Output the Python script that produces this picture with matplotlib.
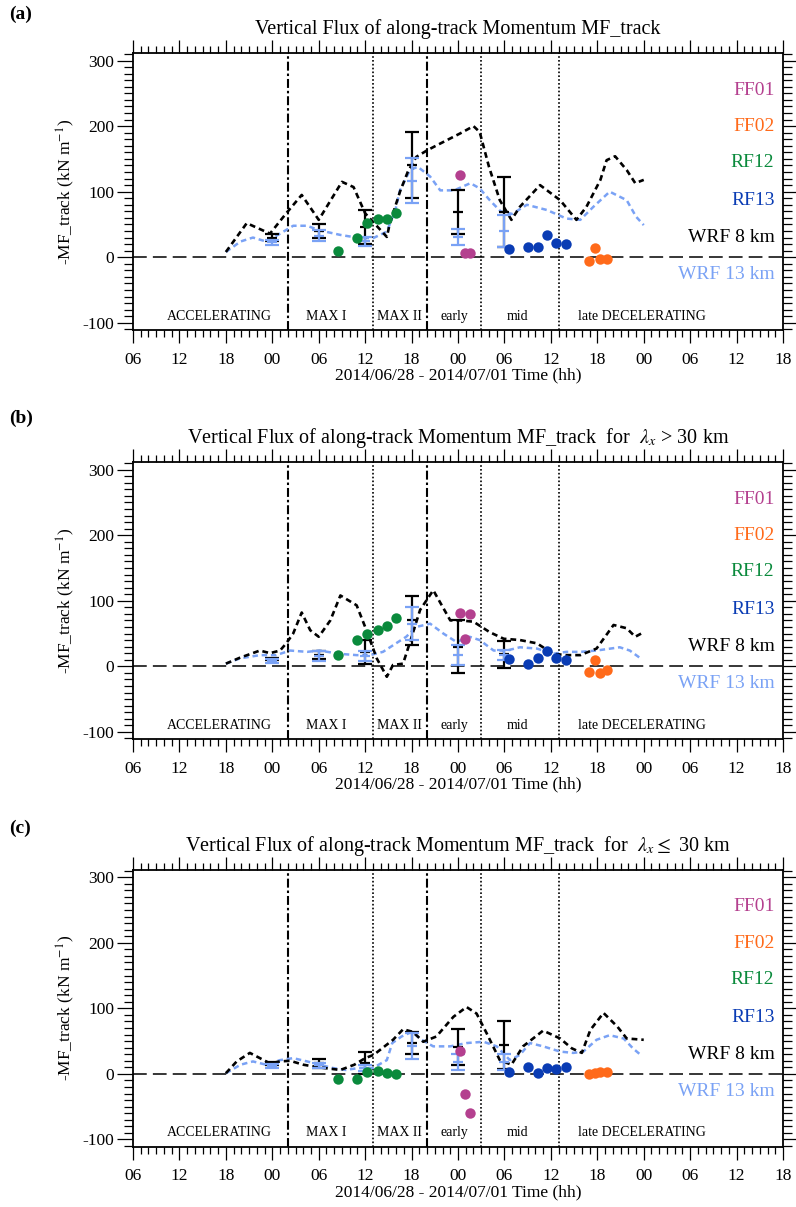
import numpy as np
import matplotlib.pyplot as plt
from matplotlib.ticker import MultipleLocator

plt.rcParams['font.family'] = ['Liberation Serif', 'DejaVu Serif']
plt.rcParams['mathtext.fontset'] = 'stix'
plt.rcParams['axes.unicode_minus'] = False

# time axis: hours since 2014/06/28 00 UTC
tick_hours = np.arange(6, 91, 6)
tick_labels = ['%02d' % (h % 24) for h in tick_hours]

# phase boundaries (hours) and phase labels
dashdot_hours = [26, 44]
dotted_hours = [37, 51, 61]
phase_names = ['ACCELERATING', 'MAX I', 'MAX II', 'early', 'mid', 'late DECELERATING']
phase_hours = [17.1, 30.9, 40.4, 47.6, 55.7, 71.8]

# legend text
legend_names = ['FF01', 'FF02', 'RF12', 'RF13', 'WRF 8 km', 'WRF 13 km']
legend_y = [255, 199, 144, 86, 30, -27]

# observation times (hours)
ff01_h = [48.3, 48.9, 49.6]
ff02_h = [64.9, 65.7, 66.3, 67.2]
rf12_h = [32.5, 35.0, 36.3, 37.6, 38.8, 40.0]
rf13_h = [54.6, 57.1, 58.3, 59.5, 60.7, 62.0]
err_h = [24, 30, 36, 42, 48, 54]

# ---- panel (a): all wavelengths
wrf8_h_a = [18, 20.7, 23.7, 25.8, 27.8, 30, 33, 34.5, 36, 38.8, 39.2, 40.5, 41.5, 42.6, 44, 45.3,
            48.3, 50, 50.8, 52, 53.4, 54.9, 56, 58.6, 61.2, 63.3, 64.6, 66.4, 67.2, 68.3, 69.8, 70.9, 72]
wrf8_a = [8, 52, 36, 67, 95, 57, 115, 107, 67, 31, 52, 100, 130, 153, 163, 171,
          189, 200, 191, 138, 87, 57, 77, 110, 87, 57, 77, 118, 148, 154, 133, 113, 118]
wrf13_h_a = [18, 19.9, 21.5, 23.2, 25, 26.7, 28.5, 30.1, 32.8, 34.9, 37, 38.8, 39.9, 40.5, 41.8,
             42.8, 44.4, 45.7, 47.5, 49.6, 50.8, 52.1, 53.5, 55, 56.9, 59.5, 62, 63.8, 65.5, 67.6, 69.8, 71, 72]
wrf13_a = [8, 24, 30, 24, 36, 48, 48, 41, 34, 30, 29, 39, 72, 102, 133, 138, 123, 102, 102, 113, 105, 87,
           70, 66, 80, 72, 59, 57, 77, 100, 87, 62, 49]
err8_mean_a = [30, 40, 46, 141, 69, 69]
err8_sd_a = [6, 10, 26, 50, 34, 54]
err13_mean_a = [23, 33, 24, 117, 31, 40]
err13_sd_a = [4, 8, 7, 35, 12, 24]
ff01_a = [125, 7, 7]
ff02_a = [-6, 14, -3, -2]
rf12_a = [9, 30, 52, 59, 59, 68]
rf13_a = [13, 15, 15, 34, 22, 20]

# ---- panel (b): lambda_x > 30 km
wrf8_h_b = [18, 19.8, 22.4, 23.7, 25, 25.8, 26.7, 27.8, 28.9, 30, 31.5, 32.8, 34.9, 36, 37.5, 38.8,
            39.6, 40.9, 41.8, 43.1, 44.8, 47, 48.3, 50, 52.1, 53.9, 56, 58.2, 60.3, 62, 63.8, 65.9,
            68.1, 69.8, 70.9, 72]
wrf8_b = [4, 13, 24, 20, 24, 35, 50, 82, 55, 45, 70, 108, 93, 60, 12, -16,
          2, 4, 37, 86, 116, 70, 70, 68, 52, 42, 40, 35, 19, 17, 17, 27,
          63, 58, 45, 52]
wrf13_h_b = [18, 19.8, 22.4, 24.5, 26.3, 28.5, 30.1, 32.7, 34.9, 36.6, 38.3, 39.6, 41.3, 42.6, 44.4,
             46.1, 47.8, 49.5, 50.8, 52.6, 54.3, 56, 58.2, 60.3, 62, 63.8, 65.9, 68.9, 70.2, 71.6]
wrf13_b = [4, 12, 17, 17, 24, 22, 24, 19, 17, 17, 22, 32, 45, 60, 65,
           50, 37, 45, 40, 24, 24, 29, 27, 19, 22, 22, 24, 29, 24, 12]
err8_mean_b = [11, 17, 22, 70, 30, 18]
err8_sd_b = [2, 6, 18, 37, 40, 20]
err13_mean_b = [8, 16, 16, 65, 17, 17]
err13_sd_b = [3, 8, 8, 25, 15, 8]
ff01_b = [82, 41, 79]
ff02_b = [-8, 9, -11, -5]
rf12_b = [17, 40, 50, 56, 61, 73]
rf13_b = [11, 3, 13, 23, 13, 9]

# ---- panel (c): lambda_x <= 30 km
wrf8_h_c = [18, 19.4, 21.1, 22.4, 23.7, 25, 26.3, 28, 30, 32.8, 34.6, 36, 37.1, 39.6, 40.9, 42.2,
            43.5, 45.2, 47.4, 49.1, 50.4, 51.7, 53.4, 54.9, 56.4, 59, 61.2, 62.7, 64, 65.1, 66.8,
            68.6, 69.8, 72]
wrf8_c = [1, 19, 32, 24, 16, 19, 20, 14, 10, 6, 14, 24, 29, 52, 68, 64,
          49, 57, 87, 102, 92, 62, 21, 14, 42, 66, 54, 39, 32, 67, 93,
          72, 54, 52]
wrf13_h_c = [18, 19.9, 21.5, 23.2, 25, 26.7, 28.5, 30.1, 31.8, 33.5, 35.2, 37, 38.8, 39.5, 40.7, 42,
             43.3, 44.8, 47, 49.1, 51.3, 53, 54.7, 56, 57.3, 59, 61.2, 62.9, 64.2, 65.9, 67.6, 69.4,
             70.6, 71.6]
wrf13_c = [1, 14, 19, 14, 21, 24, 19, 14, 9, 6, 9, 9, 21, 47, 57, 64,
           52, 42, 42, 47, 49, 42, 21, 29, 47, 42, 34, 32, 34, 52, 59, 54,
           39, 29]
err8_mean_c = [16, 16, 17, 47, 41, 44]
err8_sd_c = [2, 7, 17, 17, 27, 36]
err13_mean_c = [12, 13, 9, 42, 18, 18]
err13_sd_c = [3, 4, 4, 20, 12, 12]
ff01_c = [35, -30, -59]
ff02_c = [0, 1.5, 3, 3]
rf12_c = [-8, -8, 3.5, 5, 1, 0]
rf13_c = [3, 10, 2, 9, 8, 10]

c_ff01 = '#b4408f'
c_ff02 = '#ff6a1a'
c_rf12 = '#0a8a3c'
c_rf13 = '#0a3cb4'
c_wrf13 = '#7aa2f5'
legend_colors = [c_ff01, c_ff02, c_rf12, c_rf13, 'black', c_wrf13]

panels = [
    ('(a)', 'Vertical Flux of along-track Momentum MF_track',
     wrf8_h_a, wrf8_a, wrf13_h_a, wrf13_a, err8_mean_a, err8_sd_a, err13_mean_a, err13_sd_a,
     ff01_a, ff02_a, rf12_a, rf13_a),
    ('(b)', r'Vertical Flux of along-track Momentum MF_track  for  $\lambda_x$ > 30 km',
     wrf8_h_b, wrf8_b, wrf13_h_b, wrf13_b, err8_mean_b, err8_sd_b, err13_mean_b, err13_sd_b,
     ff01_b, ff02_b, rf12_b, rf13_b),
    ('(c)', r'Vertical Flux of along-track Momentum MF_track  for  $\lambda_x \leq$ 30 km',
     wrf8_h_c, wrf8_c, wrf13_h_c, wrf13_c, err8_mean_c, err8_sd_c, err13_mean_c, err13_sd_c,
     ff01_c, ff02_c, rf12_c, rf13_c),
]

fig = plt.figure(figsize=(7.96, 12.07), dpi=100)
ax_bottoms = [0.7266, 0.3877, 0.0500]
label_y = [1 - 14 / 1207, 1 - 418 / 1207, 1 - 828 / 1207]

for (lab, title, w8h, w8, w13h, w13, m8, s8, m13, s13, ff01, ff02, rf12, rf13), b, ly in zip(panels, ax_bottoms, label_y):
    ax = fig.add_axes([0.1671, b, 0.8166, 0.2292])
    ax.set_xlim(6, 90)
    ax.set_ylim(-111, 311)

    ax.axhline(0, color='black', lw=1.1, dashes=(9, 4))
    for h in dashdot_hours:
        ax.axvline(h, color='black', lw=1.5, linestyle=(0, (4.3, 1.4, 1.2, 1.4)))
    for h in dotted_hours:
        ax.axvline(h, color='black', lw=1.2, linestyle=(0, (1, 1.3)))

    ax.plot(w13h, w13, color=c_wrf13, lw=1.8, dashes=(2.2, 1.5))
    ax.plot(w8h, w8, color='black', lw=1.9, dashes=(2.2, 1.5))

    ax.errorbar(err_h, m8, yerr=s8, fmt='none', ecolor='black', elinewidth=1.6, capsize=5, capthick=1.6)
    ax.plot(err_h, m8, ls='none', marker='_', ms=7, mew=1.6, color='black')
    ax.errorbar(err_h, m13, yerr=s13, fmt='none', ecolor=c_wrf13, elinewidth=1.6, capsize=5, capthick=1.6)
    ax.plot(err_h, m13, ls='none', marker='_', ms=7, mew=1.6, color=c_wrf13)

    for hh, vv, cc in [(rf12_h, rf12, c_rf12), (ff01_h, ff01, c_ff01),
                       (rf13_h, rf13, c_rf13), (ff02_h, ff02, c_ff02)]:
        ax.plot(hh, vv, ls='none', marker='o', ms=7.5, mec='none', color=cc)

    for name, h in zip(phase_names, phase_hours):
        ax.text(h, -90, name, ha='center', va='center', fontsize=10)
    for name, y, cc in zip(legend_names, legend_y, legend_colors):
        ax.text(88.9, y, name, ha='right', va='center', fontsize=14, color=cc)

    ax.set_xticks(tick_hours)
    ax.set_xticklabels(tick_labels)
    ax.xaxis.set_minor_locator(MultipleLocator(1))
    ax.set_yticks([-100, 0, 100, 200, 300])
    ax.yaxis.set_minor_locator(MultipleLocator(10))
    ax.tick_params(axis='both', which='both', direction='out', top=True, right=True, labelsize=12.5, width=0.9)
    ax.tick_params(axis='x', which='major', length=9.5, pad=6)
    ax.tick_params(axis='x', which='minor', length=5)
    ax.tick_params(axis='y', which='major', length=11.5, pad=2)
    ax.tick_params(axis='y', which='minor', length=6.5)
    for sp in ax.spines.values():
        sp.set_linewidth(1.3)

    ax.set_xlabel('2014/06/28 - 2014/07/01 Time (hh)', fontsize=12.5, labelpad=0)
    ax.set_ylabel('-MF_track (kN m$^{-1}$)', fontsize=12.5, labelpad=4)
    ax.set_title(title, fontsize=14.5, pad=14)
    fig.text(0.012, ly, lab, fontsize=14, fontweight='bold', ha='left', va='center')

fig.savefig('out.png', dpi=100)
